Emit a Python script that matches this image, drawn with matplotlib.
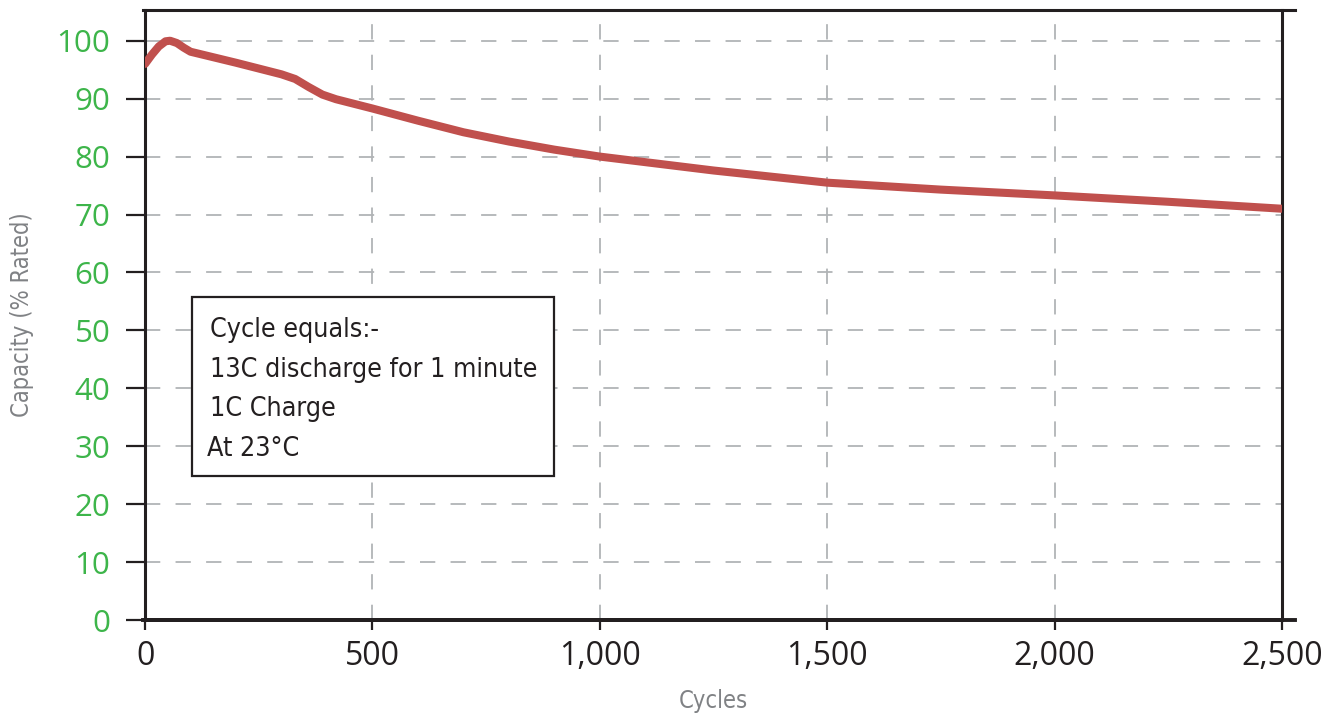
import matplotlib.pyplot as plt
from matplotlib.patches import Rectangle

# capacity fade data
cycles = [0, 15, 30, 45, 55, 70, 85, 100, 200, 300, 330, 360, 390, 420, 460, 500,
          600, 700, 800, 900, 1000, 1250, 1500, 1750, 2000, 2250, 2500]
capacity = [96, 97.6, 99.0, 99.9, 100, 99.6, 98.8, 98.1, 96.2, 94.2, 93.4, 92.0,
            90.7, 89.9, 89.1, 88.3, 86.2, 84.2, 82.6, 81.2, 80.0, 77.6, 75.5, 74.3,
            73.3, 72.2, 71.0]

x_ticks = [0, 500, 1000, 1500, 2000, 2500]
x_tick_labels = ['0', '500', '1,000', '1,500', '2,000', '2,500']
y_ticks = [0, 10, 20, 30, 40, 50, 60, 70, 80, 90, 100]

note_lines = ['Cycle equals:-', '13C discharge for 1 minute', '1C Charge', 'At 23°C']

narrow = ['DejaVu Sans']
tick_font = ['Open Sans', 'DejaVu Sans']
spine_col = '#231f20'
grid_col = '#b1b4b6'

plt.rcParams['lines.scale_dashes'] = False

fig = plt.figure(figsize=(13.37, 7.16), dpi=100)
ax = fig.add_axes([0.1085, 0.134, 0.8504, 0.852])

ax.plot(cycles, capacity, color='#c0504d', linewidth=5.8, solid_capstyle='round',
        solid_joinstyle='round', zorder=3)

ax.set_xlim(0, 2500)
ax.set_ylim(0, 105.3)

ax.set_xticks(x_ticks)
ax.set_xticklabels(x_tick_labels, fontfamily=tick_font, fontsize=23, color='#231f20')
ax.set_yticks(y_ticks)
ax.set_yticklabels([str(v) for v in y_ticks], fontfamily=tick_font, fontsize=22.5,
                   color='#3db54a')
ax.tick_params(axis='y', direction='out', length=14, width=1.6, color=spine_col, pad=11)
ax.tick_params(axis='x', direction='out', length=7, width=1.6, color=spine_col, pad=7)

# grid: vertical only at inner ticks, horizontal from 10 up
for xv in x_ticks[1:-1]:
    ax.axvline(xv, color=grid_col, linewidth=1.3, dashes=(11, 11), zorder=1)
for yv in y_ticks[1:]:
    ax.axhline(yv, color=grid_col, linewidth=1.3, dashes=(11, 11), zorder=1)

for side in ['left', 'right', 'top']:
    ax.spines[side].set_linewidth(2.2)
    ax.spines[side].set_color(spine_col)
ax.spines['bottom'].set_linewidth(2.8)
ax.spines['bottom'].set_color(spine_col)
ax.spines['top'].set_visible(False)
# top and bottom lines run a little past the right spine
ax.plot([-0.002, 1.011], [1, 1], transform=ax.transAxes, color=spine_col,
        linewidth=2.2, clip_on=False, zorder=5)
ax.plot([-0.002, 1.011], [0, 0], transform=ax.transAxes, color=spine_col,
        linewidth=2.8, clip_on=False, zorder=5)

ax.set_xlabel('Cycles', fontfamily=narrow, fontstretch='condensed', fontsize=17,
              color='#808285', labelpad=12)
ax.set_ylabel('Capacity (% Rated)', fontfamily=narrow, fontstretch='condensed',
              fontsize=17, color='#808285', labelpad=16)

# note box
ax.add_patch(Rectangle((0.0413, 0.2355), 0.3184, 0.2946, transform=ax.transAxes,
                       facecolor='white', edgecolor=spine_col, linewidth=1.6, zorder=4))
for i, line in enumerate(note_lines):
    xoff = 0.0572 if i < 3 else 0.0545
    ax.text(xoff, 0.475 - i * 0.0646, line, transform=ax.transAxes, fontfamily=narrow,
            fontstretch='condensed', fontsize=19.3, color='#231f20', va='center',
            ha='left', zorder=5)

fig.savefig('out.png', dpi=100)
